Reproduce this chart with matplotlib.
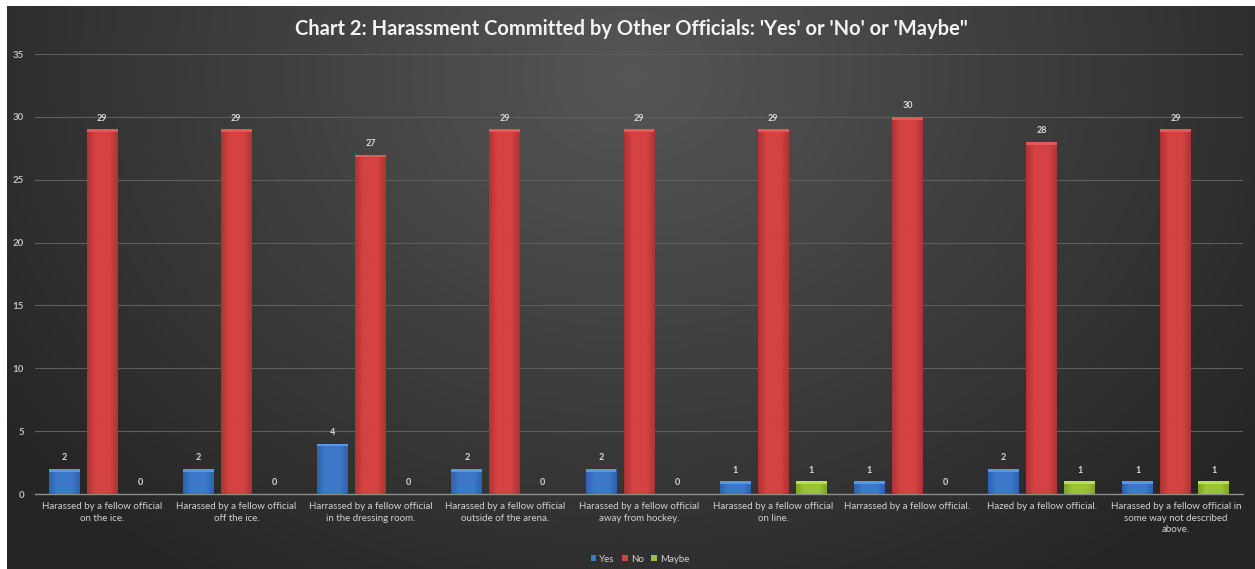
import numpy as np
import matplotlib
matplotlib.use("Agg")
import matplotlib.pyplot as plt
from matplotlib.colors import LinearSegmentedColormap
from matplotlib.patches import Rectangle

categories = [
    "Harassed by a fellow official\non the ice.",
    "Harassed by a fellow official\noff the ice.",
    "Harrassed by a fellow official\nin the dressing room.",
    "Harassed by a fellow official\noutside of the arena.",
    "Harassed by a fellow official\naway from hockey.",
    "Harassed by a fellow official\non line.",
    "Harrassed by a fellow official.",
    "Hazed by a fellow official.",
    "Harassed by a fellow official in\nsome way not described\nabove.",
]
yes_vals = [2, 2, 4, 2, 2, 1, 1, 2, 1]
no_vals = [29, 29, 27, 29, 29, 29, 30, 28, 29]
maybe_vals = [0, 0, 0, 0, 0, 1, 0, 1, 1]
series_names = ["Yes", "No", "Maybe"]
y_ticks = [0, 5, 10, 15, 20, 25, 30, 35]
title = "Chart 2: Harassment Committed by Other Officials: 'Yes' or 'No' or 'Maybe\""

plt.rcParams['font.family'] = ['Lato', 'DejaVu Sans']

W, H = 1255, 569
fig = plt.figure(figsize=(W / 100, H / 100), dpi=100)
fig.patch.set_facecolor("white")

# background panel with radial gradient (chart area inset by white border top/left)
bg = fig.add_axes([7 / W, 0, 1 - 7 / W, 1 - 6 / H])
bg.set_axis_off()
ny, nx = 200, 440
yy, xx = np.mgrid[0:ny, 0:nx]
cx, cy = nx * 0.5, ny * 0.12
d = np.sqrt(((xx - cx) / (nx * 0.62)) ** 2 + ((yy - cy) / (ny * 1.1)) ** 2)
d = np.clip(d, 0, 1)
light = np.array([0x56, 0x56, 0x56]) / 255
dark = np.array([0x25, 0x25, 0x25]) / 255
img = light[None, None, :] * (1 - d[..., None]) + dark[None, None, :] * d[..., None]
bg.imshow(img, aspect="auto", extent=[0, 1, 0, 1], origin="upper", interpolation="bilinear")
bg.set_xlim(0, 1)
bg.set_ylim(0, 1)

ax = fig.add_axes([35 / W, 75 / H, (1243 - 35) / W, (494 - 54) / H])
ax.set_facecolor("none")
ax.patch.set_alpha(0)

n = len(categories)
x = np.arange(n)
bw = 0.23
off = 0.283

colors = {
    "Yes": ("#5b96e2", "#3d78c9", "#2d62ad"),
    "No": ("#e45858", "#d44242", "#ad3333"),
    "Maybe": ("#b8de58", "#9ac436", "#7fa327"),
}

def draw_bars(xs, vals, name):
    top_c, mid_c, edge_c = colors[name]
    bars = ax.bar(xs, vals, width=bw, color=mid_c, edgecolor="none", zorder=3)
    cmap = LinearSegmentedColormap.from_list(name, [edge_c, mid_c, mid_c, mid_c, edge_c])
    grad = np.linspace(0, 1, 64)[None, :]
    for b, v in zip(bars, vals):
        if v <= 0:
            continue
        x0, w_, h_ = b.get_x(), b.get_width(), b.get_height()
        im = ax.imshow(np.vstack([grad, grad]), cmap=cmap, aspect="auto",
                       extent=[x0, x0 + w_, 0, h_], zorder=3.5, interpolation="bicubic")
        im.set_clip_path(b)
        # lighter top cap
        ax.add_patch(Rectangle((x0, h_ - 0.22), w_, 0.22, color=top_c, zorder=3.6, lw=0))
    for xi, v in zip(xs, vals):
        ax.text(xi, v + 0.55, str(v), ha="center", va="bottom", fontsize=6.5,
                color="#d9d9d9", fontweight="bold", zorder=5)
    return bars

b1 = draw_bars(x - off, yes_vals, "Yes")
b2 = draw_bars(x, no_vals, "No")
b3 = draw_bars(x + off, maybe_vals, "Maybe")

ax.set_xlim(-0.5, n - 0.5)
ax.set_ylim(0, 35)
ax.set_yticks(y_ticks)
ax.set_yticklabels([str(t) for t in y_ticks], fontsize=7, color="#bfbfbf", fontweight="bold")
ax.yaxis.grid(True, color="#5e5e5e", linewidth=0.8, zorder=0)
ax.set_axisbelow(True)
ax.set_xticks(x)
ax.set_xticklabels(categories, fontsize=7, color="#d0d0d0", linespacing=1.35)
ax.tick_params(axis="both", length=0, pad=6)
ax.tick_params(axis="y", pad=8)
for s in ["top", "right", "left"]:
    ax.spines[s].set_visible(False)
ax.spines["bottom"].set_color("#8c8c8c")
ax.spines["bottom"].set_linewidth(1.0)

fig.text(631 / W, 1 - 29 / H, title, ha="center", va="center", fontsize=14.5,
         fontweight="bold", color="#f2f2f2")

leg = fig.legend([b1, b2, b3], series_names, loc="center", bbox_to_anchor=(640 / W, 1 - 559 / H),
                 ncol=3, frameon=False, fontsize=7, handlelength=0.55, handleheight=0.55,
                 handletextpad=0.3, columnspacing=0.8, labelcolor="#d0d0d0")

fig.savefig("out.png", dpi=100, facecolor=fig.get_facecolor())
